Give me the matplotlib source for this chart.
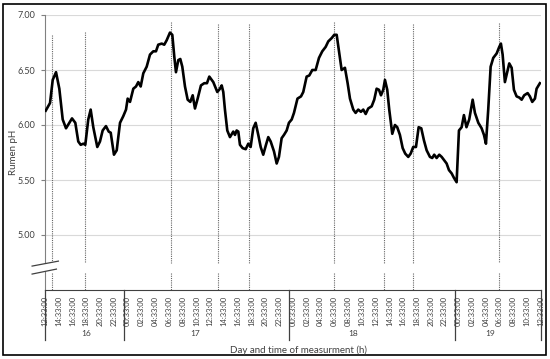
import matplotlib
matplotlib.use("Agg")
import matplotlib.pyplot as plt
import matplotlib.transforms as mtransforms
from matplotlib.patches import Rectangle, Polygon

plt.rcParams['font.family'] = ['Lato', 'DejaVu Sans']

# hours since 12:33 on day 16, rumen pH
hours = [0.10, 0.73, 1.12, 1.60, 2.08, 2.57, 3.05, 3.53, 3.92, 4.40, 4.83, 5.18, 5.56, 5.85,
         6.28, 6.63, 7.01, 7.59, 7.98, 8.37, 8.85, 9.25, 9.54, 10.01, 10.41, 10.89, 11.36,
         11.76, 12.00, 12.34, 12.82, 13.21, 13.54, 13.89, 14.27, 14.76, 15.24, 15.72, 16.11,
         16.44, 16.94, 17.31, 17.66, 18.14, 18.48, 18.77, 19.01, 19.35, 19.64, 19.93, 20.32,
         20.71, 21.09, 21.44, 21.77, 22.16, 22.64, 23.12, 23.51, 23.85, 24.43, 25.01, 25.40,
         25.65, 25.88, 26.12, 26.46, 26.85, 27.33, 27.58, 27.82, 28.06, 28.30, 28.69, 29.13,
         29.51, 29.85, 30.23, 30.58, 30.96, 31.31, 31.68, 32.08, 32.41, 32.76, 33.24, 33.63,
         33.96, 34.35, 34.69, 35.08, 35.41, 35.81, 36.14, 36.65, 37.16, 37.49, 37.98, 38.36,
         38.80, 39.29, 39.77, 40.25, 40.74, 41.12, 41.61, 41.99, 42.34, 42.67, 43.06, 43.54,
         43.93, 44.27, 44.75, 45.09, 45.47, 45.86, 46.20, 46.55, 46.92, 47.42, 47.79, 48.14,
         48.48, 48.77, 49.10, 49.35, 49.68, 49.97, 50.41, 50.80, 51.13, 51.52, 51.92, 52.29,
         52.73, 53.08, 53.45, 53.85, 54.24, 54.62, 55.01, 55.40, 55.88, 56.21, 56.50, 56.85,
         57.23, 57.58, 57.95, 58.30, 58.64, 59.03, 59.36, 59.75, 60.09, 60.48, 60.81, 61.18,
         61.58, 62.08, 62.41, 62.90, 63.38, 63.72, 64.01, 64.34, 64.69, 65.07, 65.56, 65.94,
         66.18, 66.43, 66.76, 67.10, 67.39, 67.74, 68.07, 68.46, 68.84, 69.19, 69.56, 70.06,
         70.39, 70.73, 71.12, 71.36, 71.84]
ph = [6.13, 6.20, 6.41, 6.48, 6.33, 6.05, 5.97, 6.02, 6.06, 6.02, 5.85, 5.82, 5.83, 5.82,
      6.05, 6.14, 5.98, 5.80, 5.85, 5.95, 5.99, 5.94, 5.93, 5.73, 5.77, 6.02, 6.08,
      6.14, 6.24, 6.21, 6.33, 6.35, 6.39, 6.35, 6.47, 6.53, 6.64, 6.67, 6.67,
      6.73, 6.74, 6.73, 6.77, 6.84, 6.82, 6.62, 6.48, 6.59, 6.60, 6.53, 6.35,
      6.23, 6.21, 6.27, 6.15, 6.24, 6.36, 6.38, 6.38, 6.44, 6.39, 6.30, 6.33,
      6.36, 6.30, 6.14, 5.95, 5.89, 5.94, 5.91, 5.95, 5.94, 5.82, 5.79, 5.78,
      5.83, 5.80, 5.97, 6.02, 5.91, 5.80, 5.73, 5.82, 5.89, 5.85, 5.76, 5.65,
      5.71, 5.88, 5.91, 5.95, 6.02, 6.05, 6.11, 6.24, 6.26, 6.30, 6.44, 6.45,
      6.50, 6.50, 6.61, 6.67, 6.71, 6.76, 6.79, 6.82, 6.82, 6.67, 6.50, 6.52,
      6.38, 6.24, 6.14, 6.11, 6.14, 6.12, 6.14, 6.10, 6.15, 6.17, 6.23, 6.33,
      6.32, 6.27, 6.32, 6.41, 6.32, 6.14, 5.92, 6.00, 5.98, 5.91, 5.79, 5.74,
      5.71, 5.74, 5.80, 5.80, 5.98, 5.97, 5.86, 5.77, 5.71, 5.70, 5.73, 5.70,
      5.73, 5.71, 5.68, 5.65, 5.59, 5.56, 5.52, 5.48, 5.95, 5.98, 6.09, 5.98,
      6.05, 6.23, 6.11, 6.02, 5.97, 5.91, 5.83, 6.14, 6.53, 6.61, 6.65, 6.71,
      6.74, 6.64, 6.39, 6.48, 6.56, 6.52, 6.32, 6.26, 6.25, 6.23, 6.27, 6.29,
      6.26, 6.21, 6.24, 6.33, 6.38]

# feeding times (dotted lines) and how high each line reaches
feed_hours = [1.06, 5.81, 18.29, 25.15, 29.56, 41.94, 49.25, 53.37, 65.94]
feed_tops = [6.82, 6.85, 6.94, 6.92, 6.92, 6.94, 6.92, 6.92, 6.93]

tick_hours = list(range(0, 73, 2))
tick_labels = [f"{(12 + h) % 24:02d}:33:00" for h in tick_hours]

day_names = ["16", "17", "18", "19"]
day_label_hours = [5.95, 21.8, 44.7, 64.6]
day_bounds = [0, 11.45, 35.45, 59.45, 72]

yticks = [5.0, 5.5, 6.0, 6.5, 7.0]

fig = plt.figure(figsize=(5.5, 3.59), dpi=100)
ax = fig.add_axes([45 / 550, 1 - 290 / 359, 496 / 550, 275 / 359])

ax.plot(hours, ph, color="black", lw=1.9, solid_joinstyle="round", zorder=3)

for h, top in zip(feed_hours, feed_tops):
    ax.plot([h, h], [top, 4.75], color="#666666", lw=0.8, ls=(0, (1, 1)), zorder=2)
    ax.plot([h, h], [4.655, 4.5], color="#666666", lw=0.8, ls=(0, (1, 1)), zorder=2)

ax.set_xlim(0, 72)
ax.set_ylim(4.5, 7.0)
ax.set_yticks(yticks, [f"{v:.2f}" for v in yticks])
ax.grid(axis="y", color="#d9d9d9", lw=0.8)
ax.set_axisbelow(True)
for s in ["top", "right"]:
    ax.spines[s].set_visible(False)
ax.spines["left"].set_color("#808080")
ax.spines["bottom"].set_color("#404040")
ax.tick_params(axis="y", length=3, color="#808080", labelsize=6.5, labelcolor="#404040", pad=4)
ax.set_xticks(tick_hours, tick_labels, rotation=90, fontsize=5.5, color="#404040")
ax.tick_params(axis="x", length=0, pad=4)

# day group separators and day labels below the axis
trans = mtransforms.blended_transform_factory(ax.transData, ax.transAxes)
for b in day_bounds:
    ax.plot([b, b], [0, -0.182], transform=trans, clip_on=False, color="#404040", lw=0.9)
for name, h in zip(day_names, day_label_hours):
    ax.text(h, -0.16, name, transform=trans, ha="center", va="center", fontsize=6, color="#404040")

# axis break marks
brk = Polygon([(-0.026, 0.087), (0.027, 0.105), (0.023, 0.076), (-0.026, 0.058)],
              closed=True, transform=ax.transAxes, facecolor="white", edgecolor="none",
              clip_on=False, zorder=4)
ax.add_patch(brk)
ax.plot([-0.026, 0.027], [0.087, 0.105], transform=ax.transAxes, clip_on=False,
        color="#404040", lw=0.9, zorder=5)
ax.plot([-0.026, 0.023], [0.058, 0.076], transform=ax.transAxes, clip_on=False,
        color="#404040", lw=0.9, zorder=5)

fig.text(14 / 550, 1 - 152 / 359, "Rumen pH", rotation=90, ha="center", va="center",
         fontsize=7, color="#404040")
fig.text(298 / 550, 1 - 350 / 359, "Day and time of measurment (h)", ha="center", va="center",
         fontsize=7, color="#404040")

fig.patches.append(Rectangle((3 / 550, 4 / 359), 543 / 550, 351 / 359, transform=fig.transFigure,
                             fill=False, edgecolor="black", lw=1.2))

fig.savefig("out.png", dpi=100)
